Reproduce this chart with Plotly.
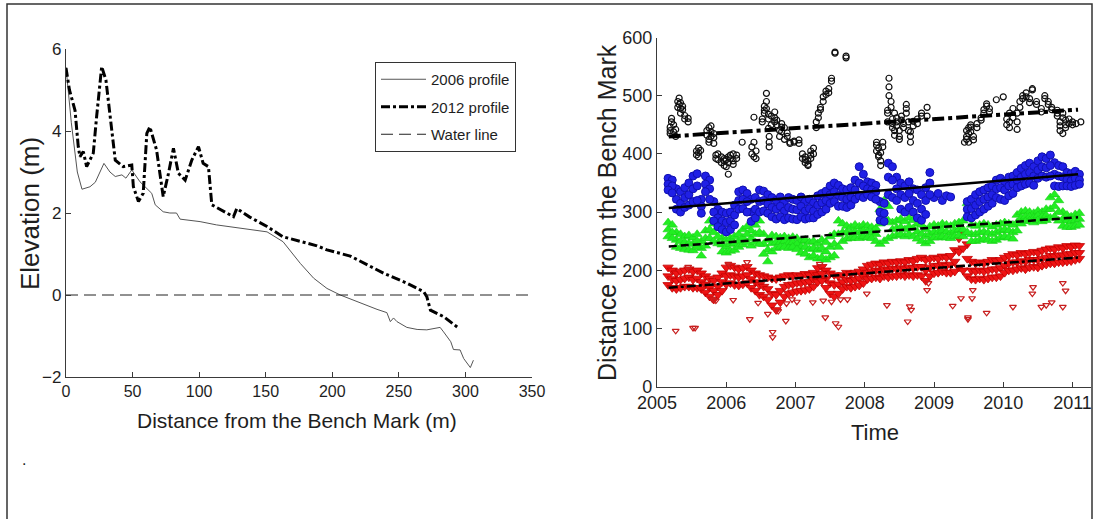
import plotly.graph_objects as go

# ---------------- Left panel data ----------------
dist_2006 = [0, 4, 8.5, 12, 18, 22, 28.5, 33, 37, 42, 45, 49.4, 55.6, 60.7, 64.4, 67, 73, 78, 83, 85.7,
             100.7, 113, 138, 151, 163, 168, 176, 186, 196, 206, 221, 233.6, 241, 243.6, 246, 248.6,
             256, 263.7, 271, 281, 283.6, 289, 291, 296, 298.7, 303.7, 306]
elev_2006 = [5.55, 4.2, 3.0, 2.58, 2.64, 2.75, 3.21, 3.0, 2.89, 2.93, 2.85, 3.05, 2.76, 2.6, 2.48, 2.2,
             2.03, 2.0, 2.0, 1.85, 1.79, 1.71, 1.59, 1.54, 1.3, 1.1, 0.77, 0.41, 0.16, 0.0, -0.2, -0.35,
             -0.43, -0.65, -0.56, -0.65, -0.79, -0.84, -0.85, -0.79, -0.9, -1.14, -1.33, -1.34, -1.55,
             -1.77, -1.59]
dist_2012 = [0, 2.6, 6.8, 9.2, 10.5, 13, 15.5, 20.5, 23, 26.8, 30, 33, 37, 43, 49.4, 50.6, 54.4, 58,
             60.7, 63, 68, 73, 77, 80.7, 84.4, 89.5, 94.5, 99.5, 103, 107, 109.5, 125.8, 128.3, 138,
             151, 163, 176, 188.5, 196, 213.5, 238.6, 256, 268.7, 271, 273.7, 283.7, 295]
elev_2012 = [5.54, 5.0, 4.5, 3.62, 3.37, 3.5, 3.13, 3.46, 4.35, 5.57, 5.24, 4.35, 3.29, 3.13, 3.17,
             2.64, 2.28, 2.48, 3.94, 4.1, 3.54, 2.4, 2.97, 3.58, 2.97, 2.8, 3.29, 3.62, 3.21, 3.13, 2.2,
             1.91, 2.11, 1.9, 1.67, 1.42, 1.3, 1.2, 1.1, 0.95, 0.53, 0.29, 0.08, -0.04, -0.37, -0.53,
             -0.81]
water_x = [0, 350]
water_y = [0, 0]
left_xticks = [0, 50, 100, 150, 200, 250, 300, 350]
left_yticks = [-2, 0, 2, 4, 6]

# ---------------- Right panel data ----------------
t_grid = [2005.16, 2005.22, 2005.28, 2005.34, 2005.40, 2005.46, 2005.52, 2005.58, 2005.64, 2005.70,
          2005.76, 2005.82, 2005.88, 2005.94, 2006.00, 2006.06, 2006.12, 2006.18, 2006.24, 2006.30,
          2006.36, 2006.42, 2006.48, 2006.54, 2006.60, 2006.66, 2006.72, 2006.78, 2006.84, 2006.90,
          2006.96, 2007.02, 2007.08, 2007.14, 2007.20, 2007.26, 2007.32, 2007.38, 2007.44, 2007.50,
          2007.56, 2007.62, 2007.68, 2007.74, 2007.80, 2007.86, 2007.92, 2007.98, 2008.04, 2008.10,
          2008.16, 2008.22, 2008.28, 2008.34, 2008.40, 2008.46, 2008.52, 2008.58, 2008.64, 2008.70,
          2008.76, 2008.82, 2008.88, 2008.94, 2009.00, 2009.06, 2009.12, 2009.18, 2009.24, 2009.30,
          2009.36, 2009.42, 2009.48, 2009.54, 2009.60, 2009.66, 2009.72, 2009.78, 2009.84, 2009.90,
          2009.96, 2010.02, 2010.08, 2010.14, 2010.20, 2010.26, 2010.32, 2010.38, 2010.44, 2010.50,
          2010.56, 2010.62, 2010.68, 2010.74, 2010.80, 2010.86, 2010.92, 2010.98, 2011.04, 2011.10]

blue_hi = [358, 355, 340, 335, 342, 350, 362, 366, 322, 362, 355, 318, 305, 300, 298, 300, 312, 335, 338, 332,
           322, 325, 338, 336, 330, 325, 320, 326, 318, 325, 322, 320, 326, 318, 322, 316, 328, 332, 336, 345,
           350, 346, 340, 338, 342, 355, 378, 365, 352, 350, 346, 318, 315, 384, 378, 360, 350, 345, 352, 340,
           338, 330, 342, 368, 325, 332, 320, 328, 326, None, None, None, 318, 322, 330, 335, 338, 342, 345, 355,
           358, 352, 360, 362, 368, 375, 380, 384, 378, 388, 395, 392, 398, 385, 380, 378, 368, 366, 370, 365]
blue_mid = [348, 345, 322, 315, 325, 330, 340, 345, 310, 348, 340, 300, 290, 285, 282, 285, 295, 320, 322, 318,
            300, 305, 318, 320, 314, 308, 305, 310, 302, 308, 305, 304, 310, 302, 306, 302, 312, 316, 320, 330,
            335, 328, 325, 322, 326, 338, 350, 345, 340, 338, 335, 300, 298, 360, 355, 340, 330, 325, 332, 320,
            315, 305, 320, 350, None, None, None, None, None, None, None, None, 305, 306, 312, 318, 322, 326, 330, 340,
            342, 338, 345, 348, 355, 360, 365, 368, 362, 372, 378, 376, 380, 365, 362, 360, 356, 354, 358, 355]
blue_lo = [338, 333, 305, 300, 308, 312, 318, 320, 298, 335, 322, 285, 275, 270, 266, 270, 278, 305, 306, 300,
           284, 290, 300, 302, 298, 292, 288, 292, 287, 290, 288, 287, 292, 288, 290, 290, 296, 300, 305, 315,
           318, 310, 310, 308, 312, 322, 328, 325, 330, 326, 322, 286, 284, 330, 325, 320, 305, 300, 308, 300,
           290, 286, 296, 330, None, None, None, None, None, None, None, None, 292, 290, 295, 300, 305, 310, 315, 325,
           322, 320, 328, 332, 342, 345, 348, 350, 346, 358, 362, 360, 362, 345, 344, 345, 345, 344, 346, 348]

green_hi = [282, 278, 265, 262, 258, 260, 256, 262, 250, 268, 285, 280, 272, 255, 252, 255, 258, 262, 270, 275,
            268, 278, 285, 262, 252, 260, 258, 256, 258, 255, 257, 255, 250, 252, 248, 250, 246, 252, 248, 258,
            262, 285, 280, 276, 274, 278, 275, 278, 276, 274, 272, 305, 320, 310, 282, 285, 288, 284, 290, 286,
            280, 278, 270, 275, 278, 276, 280, 278, 276, 280, 282, 285, 315, 278, 276, 278, 280, 278, 275, 278,
            280, 282, 280, 278, 295, 300, 302, 300, 298, 302, 300, 305, 325, 330, 320, 300, 295, 292, 296, 298]
green_mid = [270, 265, 252, 250, 248, 246, 245, 250, 238, 255, 270, 265, 258, 244, 240, 245, 246, 250, 256, 262,
             255, 262, 265, 245, 235, 246, 248, 248, 250, 246, 248, 245, 240, 240, 236, 238, 235, 238, 232, 240,
             245, 262, 265, 265, 264, 266, 265, 268, 266, 264, 262, 280, 290, 285, 270, 272, 274, 270, 275, 272,
             266, 262, 258, 262, 266, 265, 268, 266, 264, 268, 270, 270, 290, 262, 262, 265, 266, 264, 262, 265,
             268, 270, 268, 265, 282, 290, 292, 292, 290, 294, 292, 294, 305, 310, 300, 288, 285, 283, 286, 288]
green_lo = [258, 255, 240, 238, 236, 235, 234, 240, 225, 242, 255, 250, 246, 232, 230, 233, 235, 240, 244, 248,
            242, 248, 245, 228, 215, 232, 238, 240, 240, 238, 240, 236, 230, 228, 222, 225, 220, 222, 218, 222,
            225, 240, 250, 254, 255, 256, 255, 258, 256, 255, 250, 245, 250, 255, 258, 260, 262, 258, 262, 258,
            254, 250, 246, 250, 256, 256, 258, 256, 255, 258, 260, 258, 265, 250, 250, 252, 254, 252, 250, 252,
            256, 258, 256, 254, 268, 280, 284, 285, 282, 286, 284, 286, 290, 292, 285, 276, 274, 274, 276, 278]

red_hi = [205, 200, 195, 198, 200, 202, 198, 200, 195, 190, 186, 182, 188, 195, 205, 208, 205, 202, 204, 206,
          200, 195, 192, 190, 188, 186, 185, 188, 190, 192, 190, 192, 190, 194, 192, 196, 204, 206, 200, 195,
          192, 190, 192, 196, 194, 196, 198, 202, 208, 210, 212, 210, 214, 212, 215, 214, 216, 214, 218, 216,
          220, 222, 218, 220, 222, 220, 224, 222, 225, 235, 255, 262, 245, 215, 212, 214, 212, 215, 218, 216,
          218, 222, 225, 228, 226, 230, 228, 230, 232, 230, 234, 236, 238, 236, 240, 238, 242, 240, 243, 242]
red_mid = [190, 185, 182, 184, 186, 188, 184, 186, 180, 176, 170, 165, 172, 180, 190, 192, 190, 188, 190, 192,
           185, 180, 175, 172, 168, 160, 158, 165, 172, 175, 176, 178, 178, 180, 180, 184, 192, 194, 185, 178,
           175, 176, 180, 184, 182, 184, 186, 190, 196, 198, 200, 198, 202, 200, 203, 202, 204, 202, 205, 204,
           206, 206, 200, 205, 208, 208, 210, 208, 210, 215, 232, 238, 220, 200, 198, 200, 198, 200, 202, 202,
           204, 208, 212, 214, 214, 216, 215, 218, 218, 218, 220, 222, 225, 224, 226, 226, 228, 228, 230, 230]
red_lo = [175, 170, 168, 170, 172, 172, 170, 170, 168, 162, 155, 150, 158, 165, 176, 178, 175, 174, 176, 178,
          170, 165, 158, 155, 150, 140, 132, 145, 155, 160, 162, 164, 165, 166, 168, 172, 180, 182, 170, 160,
          155, 160, 168, 172, 170, 172, 174, 178, 185, 186, 188, 186, 190, 188, 190, 190, 192, 190, 192, 190,
          192, 190, 182, 190, 195, 196, 198, 196, 196, 198, 205, 200, 190, 185, 184, 186, 184, 186, 188, 188,
          190, 196, 200, 200, 202, 204, 202, 205, 206, 205, 208, 210, 212, 212, 214, 214, 215, 216, 218, 220]

red_out_t = [2005.27, 2005.52, 2005.55, 2006.34, 2006.67, 2006.67, 2006.86, 2006.10, 2006.46, 2006.87,
             2007.02, 2007.43, 2007.58, 2007.62, 2007.40, 2007.52, 2007.65, 2007.75, 2008.03, 2008.32,
             2008.62, 2008.65, 2008.67, 2008.90, 2008.92, 2009.27, 2009.39, 2009.49, 2009.49, 2009.55,
             2009.56, 2009.76, 2010.14, 2010.42, 2010.43, 2010.55, 2010.62, 2010.70, 2010.86, 2010.86,
             2005.45, 2006.03, 2006.30, 2007.35, 2005.80, 2005.85, 2006.60, 2006.75, 2006.95, 2007.25, 2010.90]
red_out_v = [96, 101, 101, 116, 94, 85, 113, 149, 144, 143,
             146, 119, 109, 103, 148, 146, 150, 150, 160, 140,
             112, 138, 132, 166, 178, 139, 152, 116, 119, 152,
             166, 127, 137, 160, 171, 137, 140, 145, 137, 178,
             206, 211, 214, 211, 150, 148, 125, 130, 150, 145, 165]

black_times = [2005.19, 2005.21, 2005.24, 2005.27, 2005.30, 2005.32, 2005.34, 2005.37, 2005.40, 2005.45,
               2005.57, 2005.60, 2005.63, 2005.72, 2005.75, 2005.78, 2005.82, 2005.85, 2005.88, 2005.93,
               2005.97, 2006.00, 2006.03, 2006.06, 2006.10, 2006.15, 2006.23, 2006.37, 2006.40, 2006.43,
               2006.52, 2006.55, 2006.58, 2006.61, 2006.62, 2006.65, 2006.70, 2006.73, 2006.77, 2006.80,
               2006.84, 2006.88, 2006.92, 2006.98, 2007.05, 2007.10, 2007.14, 2007.18, 2007.22, 2007.26,
               2007.30, 2007.33, 2007.36, 2007.40, 2007.44, 2007.48, 2007.52, 2007.57, 2007.73,
               2008.17, 2008.20, 2008.23, 2008.26, 2008.33, 2008.35, 2008.38, 2008.40, 2008.43, 2008.46,
               2008.50, 2008.53, 2008.56, 2008.60, 2008.63, 2008.66, 2008.70, 2008.76, 2008.82, 2008.90,
               2009.44, 2009.47, 2009.50, 2009.53, 2009.57, 2009.62, 2009.68, 2009.72, 2009.76, 2009.80,
               2009.90, 2010.00, 2010.05, 2010.09, 2010.14, 2010.20, 2010.24, 2010.28, 2010.33, 2010.38,
               2010.42, 2010.48, 2010.55, 2010.60, 2010.65, 2010.70, 2010.78, 2010.82, 2010.86, 2010.90,
               2010.95, 2011.00, 2011.05, 2011.12]
black_vals = [[435, 440, 446], [455, 461], [450, 438], [430, 442], [480, 490], [496, 485], [478, 470, 488],
              [482, 476], [460, 466], [461, 455],
              [398, 405], [410, 402, 395], [406], [440, 432], [445, 425, 420], [438, 430, 448], [435, 428, 418],
              [398, 392], [400, 390], [395, 385],
              [388, 380, 392], [390, 378], [365, 385, 395], [392, 398], [400, 388, 382], [398, 392], [420],
              [400, 412], [395, 420, 463], [405, 392],
              [455, 460], [470, 482, 475], [490, 478, 504], [468, 460, 444], [430, 420, 412], [450, 465],
              [472, 462, 455], [458, 450], [440, 430], [452, 446, 438],
              [445, 425], [430, 436], [420, 418], [422, 420], [418, 424], [400, 392], [385, 390, 395],
              [382, 388, 380], [392, 398, 405], [400, 410],
              [445, 455], [462, 470], [480, 476], [490, 498], [502, 508], [512, 505], [525, 530], [575, 573],
              [568, 565],
              [405, 415, 420], [395, 398, 410], [388, 402, 380], [412, 420], [455, 470, 475], [500, 515, 530],
              [490, 480], [460, 445, 452], [470, 440, 432], [455, 448, 462],
              [440, 430, 425], [458, 465], [445, 452], [470, 478, 485], [455, 440], [430, 420, 438], [448, 456],
              [452, 460], [465, 470], [480, 465],
              [420], [425, 430, 440], [445, 420, 435], [438, 450, 446], [430, 424], [452, 445], [458, 462],
              [470, 476], [482, 486], [472, 478],
              [493], [498], [450, 460], [445, 455, 470], [478, 462], [470, 455, 442], [480, 490], [495, 500],
              [505, 498], [488, 495],
              [510, 512], [490, 485], [478, 472], [495, 500], [485, 490], [476, 480], [465, 470, 475],
              [455, 448, 440], [470, 462, 435], [450, 445, 458],
              [460, 452], [455, 450], [452], [455]]

trend_t = [2005.17, 2011.08]
trend_black = [430, 476]
trend_blue = [307, 365]
trend_green = [241, 291]
trend_red = [170, 222]
right_xticks = [2005, 2006, 2007, 2008, 2009, 2010, 2011]
right_yticks = [0, 100, 200, 300, 400, 500, 600]

# ---------------- Figure ----------------
W, H = 1094, 519
def px(x):
    return x / W
def py(y):
    return 1 - y / H

SANS = "Liberation Sans, Arial"
TXT = "#1e1e1e"
AX = "#3a3a3a"

fig = go.Figure()

# left panel
fig.add_trace(go.Scatter(x=dist_2006, y=elev_2006, mode="lines", name="2006 profile", legendgroup="a",
                         line=dict(color="#555555", width=1), xaxis="x", yaxis="y"))
fig.add_trace(go.Scatter(x=dist_2012, y=elev_2012, mode="lines", name="2012 profile", legendgroup="b",
                         line=dict(color="black", width=3, dash="dashdot"), xaxis="x", yaxis="y"))
fig.add_trace(go.Scatter(x=water_x, y=water_y, mode="lines", name="Water line", legendgroup="c",
                         line=dict(color="#222222", width=1, dash="12px,6px"), xaxis="x", yaxis="y"))

# right panel scatter
def flat3(a, b, c):
    return a + b + c

fig.add_trace(go.Scatter(x=t_grid * 3, y=flat3(red_hi, red_mid, red_lo), mode="markers", showlegend=False,
                         marker=dict(symbol="triangle-down", size=9, color="#ee1414",
                                     line=dict(color="#c00000", width=0.8)), xaxis="x2", yaxis="y2"))
fig.add_trace(go.Scatter(x=red_out_t, y=red_out_v, mode="markers", showlegend=False,
                         marker=dict(symbol="triangle-down-open", size=6, color="#c81e1e",
                                     line=dict(width=1.2)), xaxis="x2", yaxis="y2"))
fig.add_trace(go.Scatter(x=t_grid * 3, y=flat3(green_hi, green_mid, green_lo), mode="markers", showlegend=False,
                         marker=dict(symbol="triangle-up", size=9, color="#22ee22",
                                     line=dict(color="#18d018", width=0.6)), xaxis="x2", yaxis="y2"))
fig.add_trace(go.Scatter(x=t_grid * 3, y=flat3(blue_hi, blue_mid, blue_lo), mode="markers", showlegend=False,
                         marker=dict(symbol="circle", size=8, color="#2020e6",
                                     line=dict(color="#1010b0", width=1)), xaxis="x2", yaxis="y2"))
bx, bv = [], []
for t, vals in zip(black_times, black_vals):
    for v in vals:
        bx.append(t)
        bv.append(v)
fig.add_trace(go.Scatter(x=bx, y=bv, mode="markers", showlegend=False,
                         marker=dict(symbol="circle-open", size=6, color="#111111", line=dict(width=1.2)),
                         xaxis="x2", yaxis="y2"))

# trend lines
fig.add_trace(go.Scatter(x=trend_t, y=trend_black, mode="lines", showlegend=False,
                         line=dict(color="black", width=4, dash="dashdot"), xaxis="x2", yaxis="y2"))
fig.add_trace(go.Scatter(x=trend_t, y=trend_blue, mode="lines", showlegend=False,
                         line=dict(color="black", width=2.5), xaxis="x2", yaxis="y2"))
fig.add_trace(go.Scatter(x=trend_t, y=trend_green, mode="lines", showlegend=False,
                         line=dict(color="black", width=2.5, dash="8px,4px"), xaxis="x2", yaxis="y2"))
fig.add_trace(go.Scatter(x=trend_t, y=trend_red, mode="lines", showlegend=False,
                         line=dict(color="black", width=2.5, dash="dashdot"), xaxis="x2", yaxis="y2"))

axis_common = dict(showline=True, linecolor=AX, linewidth=1.3, ticks="inside", ticklen=5,
                   tickcolor=AX, tickwidth=1, showgrid=False, zeroline=False, mirror=False)

def label(text, x, y, size, angle=0):
    return dict(text=text, x=px(x), y=py(y), xref="paper", yref="paper", xanchor="center",
                yanchor="middle", textangle=angle, showarrow=False,
                font=dict(family=SANS, size=size, color=TXT))

fig.update_layout(
    width=W, height=H, template="none",
    margin=dict(l=0, r=0, t=0, b=0),
    paper_bgcolor="white", plot_bgcolor="white",
    xaxis=dict(domain=[px(66), px(532)], range=[0, 350], tickvals=left_xticks,
               tickfont=dict(family=SANS, size=16, color=TXT), anchor="y", **axis_common),
    yaxis=dict(domain=[py(377), py(49)], range=[-2, 6], tickvals=left_yticks,
               tickfont=dict(family=SANS, size=17, color=TXT), anchor="x", **axis_common),
    xaxis2=dict(domain=[px(657), px(1091)], range=[2005, 2011.267], tickvals=right_xticks,
                ticktext=[str(v) for v in right_xticks],
                tickfont=dict(family=SANS, size=18, color=TXT), anchor="y2", **axis_common),
    yaxis2=dict(domain=[py(386.7), py(37.5)], range=[0, 600], tickvals=right_yticks,
                tickfont=dict(family=SANS, size=18, color=TXT), anchor="x2", **axis_common),
    legend=dict(x=px(375), y=py(62), xanchor="left", yanchor="top", xref="paper", yref="paper",
                bgcolor="white", bordercolor="#333333", borderwidth=1,
                font=dict(family=SANS, size=15, color=TXT), itemwidth=45, tracegroupgap=5),
    shapes=[dict(type="rect", xref="paper", yref="paper", x0=px(7), x1=px(1092), y0=-0.05, y1=py(4),
                 line=dict(color="#333333", width=1.5), fillcolor="rgba(0,0,0,0)", layer="below")],
    annotations=[
        label("Distance from the Bench Mark (m)", 297, 420, 21),
        label("Elevation (m)", 30, 214, 26, -90),
        label("Distance from the Bench Mark", 607, 213, 25, -90),
        label("Time", 875, 432, 22),
        label(".", 24, 459, 16),
    ],
)

fig.write_html("out.html", config={"displayModeBar": False},
               post_script="document.body.style.margin='0px';")
